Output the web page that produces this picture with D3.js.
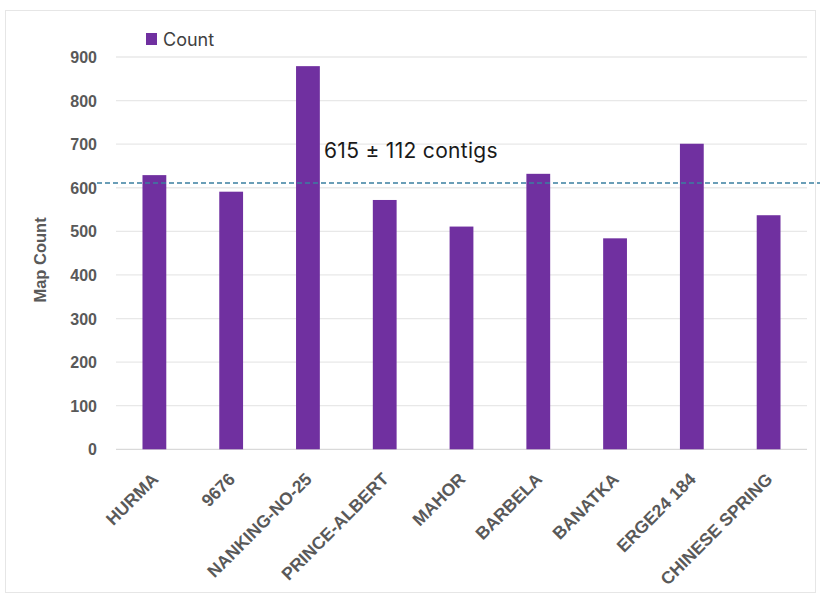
<!DOCTYPE html>
<html>
<head>
<meta charset="utf-8">
<script src="https://cdn.jsdelivr.net/npm/d3@7"></script>
<style>
  body { margin: 0; background: #fff; }
  svg { display: block; }
</style>
</head>
<body>
<div id="chart"></div>
<script>
    var cultivars = ["HURMA", "9676", "NANKING-NO-25", "PRINCE-ALBERT", "MAHOR", "BARBELA", "BANATKA", "ERGE24 184", "CHINESE SPRING"];
    var counts = [629, 591, 879, 572, 511, 632, 484, 701, 537];
    var yTicks = [0, 100, 200, 300, 400, 500, 600, 700, 800, 900];
    var meanLine = 611;
    var meanLabel = "615 \u00b1 112 contigs";
    var seriesName = "Count";

    var w = 820,
        h = 598,
        purple = "#7030a0",
        gray = "#595959";

    var margin = { left: 116, right: 13, top: 57, bottom: 148 };

    var svg = d3.select("#chart").append("svg")
        .attr("width", w)
        .attr("height", h);

    // chart frame
    svg.append("rect")
        .attr("x", 5.5).attr("y", 10.5)
        .attr("width", 810).attr("height", 582)
        .attr("fill", "#fff")
        .attr("stroke", "#e6e6e6");

    var x = d3.scaleBand()
        .domain(cultivars)
        .range([margin.left, w - margin.right])
        .paddingInner(0.69)
        .paddingOuter(0.345);

    var y = d3.scaleLinear()
        .domain([0, 900])
        .range([h - margin.bottom - 0.7, margin.top]);

    // gridlines
    svg.append("g").selectAll("line")
        .data(yTicks)
        .enter().append("line")
        .attr("x1", margin.left)
        .attr("x2", w - margin.right)
        .attr("y1", function (d) { return y(d); })
        .attr("y2", function (d) { return y(d); })
        .style("stroke", function (d) { return d === 0 ? "#d9d9d9" : "#e8e8e8"; })
        .style("stroke-width", "1.3px");

    // y axis labels
    var yAxis = d3.axisLeft(y).tickValues(yTicks).tickSize(0).tickPadding(19);
    var gy = svg.append("g")
        .attr("transform", "translate(" + margin.left + ",0)")
        .call(yAxis);
    gy.select(".domain").remove();
    gy.selectAll("text")
        .attr("dy", "0.35em")
        .style("font-family", "'Liberation Sans', Arial, sans-serif")
        .style("font-weight", "bold")
        .style("font-size", "16px")
        .style("fill", gray);

    svg.append("text")
        .attr("transform", "translate(46,260) rotate(-90)")
        .attr("text-anchor", "middle")
        .style("font-family", "'Liberation Sans', Arial, sans-serif")
        .style("font-weight", "bold")
        .style("font-size", "16.5px")
        .style("fill", gray)
        .text("Map Count");

    // bars
    svg.append("g").selectAll("rect")
        .data(counts)
        .enter().append("rect")
        .attr("x", function (d, i) { return x(cultivars[i]); })
        .attr("width", x.bandwidth())
        .attr("y", function (d) { return y(d); })
        .attr("height", function (d) { return y(0) - y(d); })
        .style("fill", purple);

    // x axis labels
    var xAxis = d3.axisBottom(x).tickSize(0).tickPadding(0);
    var gx = svg.append("g")
        .attr("transform", "translate(0," + y(0) + ")")
        .call(xAxis);
    gx.select(".domain").remove();
    gx.selectAll("text")
        .attr("text-anchor", "end")
        .attr("dy", 0)
        .attr("y", 0)
        .attr("transform", "translate(5,31) rotate(-45)")
        .style("font-family", "'Liberation Sans', Arial, sans-serif")
        .style("font-weight", "bold")
        .style("font-size", "17.5px")
        .style("fill", gray);

    // mean line
    svg.append("line")
        .attr("x1", 97)
        .attr("x2", w)
        .attr("y1", y(meanLine))
        .attr("y2", y(meanLine))
        .style("stroke", "#3a7fa0")
        .style("stroke-width", "1.5px")
        .style("stroke-dasharray", "5,3");

    svg.append("text")
        .attr("x", 324)
        .attr("y", 158)
        .style("font-family", "Inter, 'Noto Sans', sans-serif")
        .style("font-size", "21px")
        .style("letter-spacing", "0.3px")
        .style("fill", "#1a1a1a")
        .text(meanLabel);

    // legend
    svg.append("rect")
        .attr("x", 146).attr("y", 33)
        .attr("width", 11).attr("height", 12)
        .style("fill", purple);
    svg.append("text")
        .attr("x", 163)
        .attr("y", 46)
        .style("font-family", "Inter, 'Noto Sans', sans-serif")
        .style("font-size", "18px")
        .style("fill", "#404040")
        .text(seriesName);
</script>
</body>
</html>
